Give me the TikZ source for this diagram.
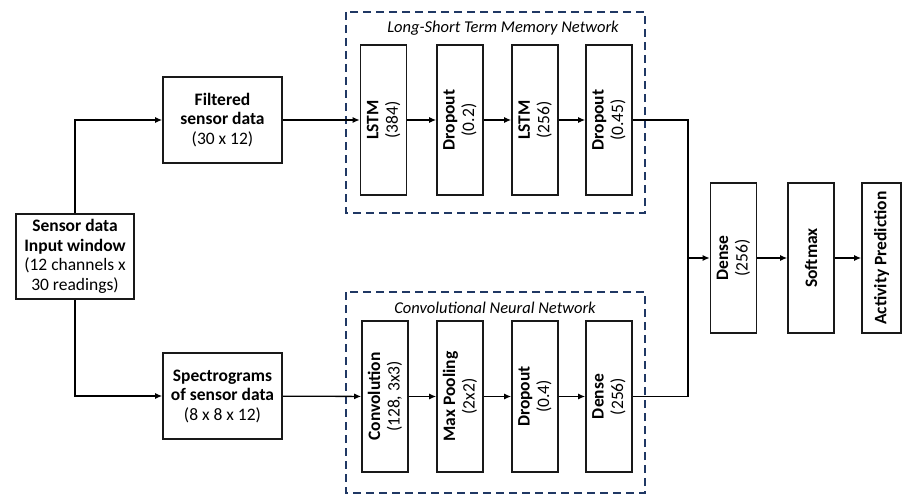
\documentclass[tikz,border=0pt]{standalone}
\usepackage{fontspec}
\setmainfont{Carlito}
\usetikzlibrary{arrows.meta}
\definecolor{netblue}{HTML}{203864}
\begin{document}
\begin{tikzpicture}[x=1pt, y=-1pt,
  font=\fontsize{17.5}{19.5}\selectfont,
  box/.style={shape=rectangle, draw=black!90, line width=1.6pt, align=center, inner sep=2pt},
  layer/.style={box, rotate=90, minimum width=150pt, minimum height=46pt},
  netframe/.style={draw=netblue, line width=1.4pt, dash pattern=on 8pt off 5pt},
  link/.style={-{Latex[length=7pt,width=6pt]}, line width=1.3pt},
  wire/.style={line width=1.3pt}]
\useasboundingbox (0,0) rectangle (903,495);

% dashed frames
\draw[netframe] (346,12) rectangle (645,213);
\draw[netframe] (346,292) rectangle (645,493);
\node (lstmtitle) at (503,28) {\fontsize{16.5}{19}\selectfont\itshape Long-Short Term Memory Network};
\node (cnntitle) at (495,308) {\fontsize{16.5}{19}\selectfont\itshape Convolutional Neural Network};

% inputs
\node[box, minimum width=118pt, minimum height=85pt] (sensor) at (75,256.5) {\bfseries Sensor data\\\bfseries Input window\\(12 channels x\\30 readings)};
\node[box, minimum width=119pt, minimum height=86pt] (filt) at (222.5,120) {\bfseries Filtered\\\bfseries sensor data\\(30 x 12)};
\node[box, minimum width=119pt, minimum height=86pt] (spec) at (222.5,396) {\bfseries Spectrograms\\\bfseries of sensor data\\(8 x 8 x 12)};

% LSTM branch
\node[layer] (lstmA) at (383.5,120) {\bfseries LSTM\\(384)};
\node[layer] (dropA) at (460,120) {\bfseries Dropout\\(0.2)};
\node[layer] (lstmB) at (535,120) {\bfseries LSTM\\(256)};
\node[layer] (dropB) at (609,120) {\bfseries Dropout\\(0.45)};

% CNN branch
\node[layer, minimum width=151pt] (conv) at (385,396.5) {\bfseries Convolution\\(128, 3x3)};
\node[layer, minimum width=151pt] (pool) at (460,396.5) {\bfseries Max Pooling\\(2x2)};
\node[layer, minimum width=151pt] (dropC) at (535,396.5) {\bfseries Dropout\\(0.4)};
\node[layer, minimum width=151pt] (denseC) at (609,396.5) {\bfseries Dense\\(256)};

% head
\coordinate (merge) at (688,258);
\node[layer] (dense) at (733.5,258) {\bfseries Dense\\(256)};
\node[layer] (soft) at (811,258) {\bfseries Softmax};
\node[layer, minimum height=39pt] (act) at (881.5,258) {\bfseries Activity Prediction};

\draw[link] (sensor) |- (filt);
\draw[link] (sensor) |- (spec);
\draw[link] (filt) -- (lstmA);
\draw[link] (lstmA) -- (dropA);
\draw[link] (dropA) -- (lstmB);
\draw[link] (lstmB) -- (dropB);
\draw[link] (spec) -- (conv);
\draw[link] (conv) -- (pool);
\draw[link] (pool) -- (dropC);
\draw[link] (dropC) -- (denseC);
\draw[wire] (dropB) -| (merge);
\draw[wire] (denseC) -| (merge);
\draw[link] (merge) -- (dense);
\draw[link] (dense) -- (soft);
\draw[link] (soft) -- (act);
\end{tikzpicture}
\end{document}
